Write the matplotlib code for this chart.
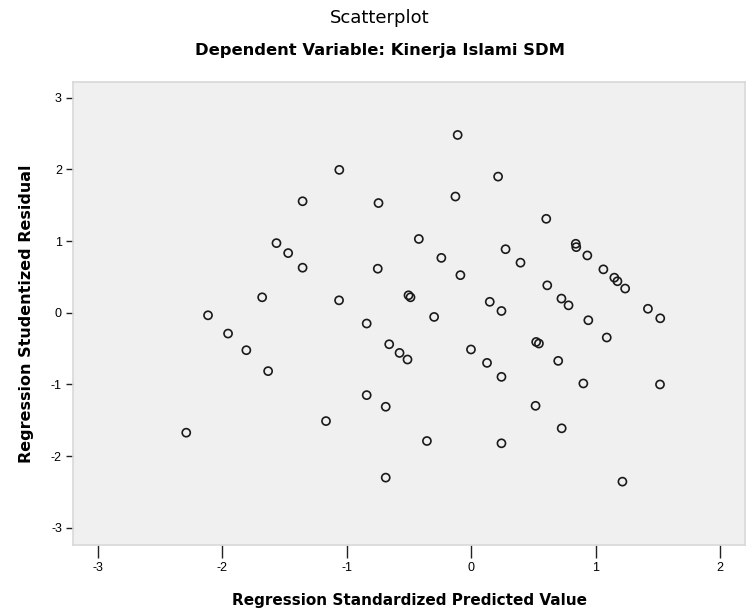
import matplotlib
matplotlib.use("Agg")
import matplotlib.pyplot as plt

plt.rcParams['font.family'] = ['Liberation Sans', 'DejaVu Sans']

# Regression standardized predicted values (x) and studentized residuals (y)
pred = [-0.109, -1.060, 0.216, -1.355, -0.745, -0.127, 0.603, -0.421, -1.565, -1.471,
        -0.240, -1.355, -0.751, -0.087, 0.276, 0.396, 0.840, 0.844, 0.933, 1.062,
        1.150, 1.175, 1.237, -1.680, -1.062, -0.504, -0.488, 0.611, 0.725, 0.782,
        1.420, 1.519, -2.115, -0.298, 0.149, 0.243, -0.840, 0.941, -1.954, 1.089,
        -1.807, -0.659, -0.576, -0.512, -0.002, 0.127, 0.522, 0.544, 0.699, 0.243,
        -1.632, 0.901, 1.517, -0.840, -0.687, 0.517, -1.167, 0.727, -2.290, -0.356,
        0.243, -0.687, 1.215]
resid = [2.481, 1.994, 1.900, 1.556, 1.531, 1.622, 1.311, 1.030, 0.972, 0.833,
         0.766, 0.629, 0.615, 0.525, 0.887, 0.699, 0.963, 0.916, 0.800, 0.606,
         0.490, 0.440, 0.338, 0.216, 0.174, 0.244, 0.216, 0.383, 0.198, 0.104,
         0.056, -0.077, -0.035, -0.058, 0.153, 0.025, -0.150, -0.104, -0.290, -0.345,
         -0.522, -0.439, -0.560, -0.652, -0.512, -0.699, -0.407, -0.429, -0.671, -0.894,
         -0.814, -0.986, -1.000, -1.149, -1.311, -1.298, -1.511, -1.612, -1.673, -1.789,
         -1.821, -2.300, -2.356]

xticks = [-3, -2, -1, 0, 1, 2]
yticks = [-3, -2, -1, 0, 1, 2, 3]

fig = plt.figure(figsize=(7.47, 6.15), dpi=100)
ax = fig.add_axes([73/747, 1-545/615, (745-73)/747, (545-82)/615])
ax.set_facecolor('#f0f0f0')
ax.scatter(pred, resid, s=34, facecolors='none', edgecolors='#1a1a1a', linewidths=1.2)

ax.set_xlim(-3.2, 2.2)
ax.set_ylim(-3.24, 3.22)
ax.set_xticks(xticks)
ax.set_yticks(yticks)
ax.set_xticklabels([str(t) for t in xticks], fontsize=9)
ax.set_yticklabels([str(t) for t in yticks], fontsize=9)
ax.tick_params(axis='x', length=9, width=1, pad=3, color='#222222')
ax.tick_params(axis='y', length=5, width=1, pad=3, color='#222222')
for s in ax.spines.values():
    s.set_color('#d8d8d8')
    s.set_linewidth(1.2)

ax.set_xlabel('Regression Standardized Predicted Value', labelpad=14,
              family='DejaVu Sans', fontsize=11, fontweight='bold')
ax.set_ylabel('Regression Studentized Residual', labelpad=12,
              family='DejaVu Sans', fontsize=11.5, fontweight='bold')

fig.text(380/747, 1-18/615, 'Scatterplot', ha='center', va='center',
         family='DejaVu Sans', fontsize=13)
fig.text(380/747, 1-50/615, 'Dependent Variable: Kinerja Islami SDM', ha='center', va='center',
         family='DejaVu Sans', fontsize=11.8, fontweight='bold')

fig.savefig('out.png', dpi=100)
